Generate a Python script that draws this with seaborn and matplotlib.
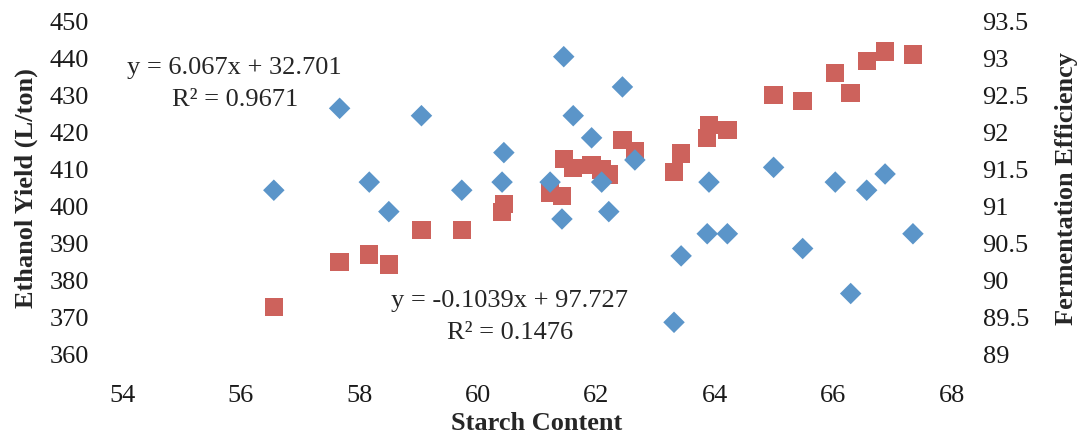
import numpy as np
import pandas as pd
import matplotlib
matplotlib.use("Agg")
import matplotlib.pyplot as plt
import seaborn as sns

# Starch content (x) shared by both series
starch = [56.56, 57.67, 58.17, 58.50, 59.05, 59.73, 60.41, 60.44, 61.22, 61.42,
          61.45, 61.61, 61.92, 62.09, 62.21, 62.44, 62.65, 63.31, 63.43, 63.87,
          63.90, 64.21, 64.99, 65.48, 66.03, 66.29, 66.56, 66.87, 67.34]

# Ethanol yield (L/ton), left axis, red squares
ethanol_yield = [372.8, 385.0, 387.0, 384.3, 393.6, 393.6, 398.5, 400.6, 403.7, 402.9,
                 412.9, 410.5, 411.2, 410.0, 408.7, 418.0, 414.9, 409.4, 414.4, 418.5,
                 422.1, 420.7, 430.2, 428.6, 436.1, 430.7, 439.5, 442.0, 441.2]

# Fermentation efficiency, right axis, blue diamonds
ferm_eff = [91.22, 92.33, 91.33, 90.93, 92.23, 91.22, 91.33, 91.73, 91.33, 90.83,
            93.03, 92.23, 91.93, 91.33, 90.93, 92.62, 91.63, 89.43, 90.33, 90.63,
            91.33, 90.63, 91.53, 90.43, 91.33, 89.82, 91.22, 91.44, 90.63]

x_ticks = [54, 56, 58, 60, 62, 64, 66, 68]
left_ticks = [360, 370, 380, 390, 400, 410, 420, 430, 440, 450]
right_ticks = [89, 89.5, 90, 90.5, 91, 91.5, 92, 92.5, 93, 93.5]

df = pd.DataFrame({"Starch": starch, "Yield": ethanol_yield, "Eff": ferm_eff})

sns.set_style("white")
plt.rcParams["font.family"] = ["Liberation Serif", "DejaVu Serif"]

fig = plt.figure(figsize=(10.83, 4.33), dpi=100)
ax = fig.add_axes([0.1127, 0.1824, 0.7664, 0.7668])
ax2 = ax.twinx()

red = "#CD625C"
blue = "#5B95C9"
fs = 19

sns.scatterplot(data=df, x="Starch", y="Yield", ax=ax, marker="s", s=175,
                color=red, edgecolor="none", linewidth=0, legend=False)
sns.scatterplot(data=df, x="Starch", y="Eff", ax=ax2, marker="D", s=120,
                color=blue, edgecolor="none", linewidth=0, legend=False)

ax.set_xlim(54, 68)
ax.set_ylim(360, 450)
ax2.set_ylim(89, 93.5)
ax.set_xticks(x_ticks)
ax.set_yticks(left_ticks)
ax2.set_yticks(right_ticks)
ax2.set_yticklabels([f"{t:g}" for t in right_ticks])

for a in (ax, ax2):
    for sp in a.spines.values():
        sp.set_visible(False)
    a.tick_params(length=0, labelsize=fs, colors="#1a1a1a")
ax.tick_params(axis="y", pad=24)
ax.tick_params(axis="x", pad=22)
ax2.tick_params(axis="y", pad=22)

ax.set_xlabel("Starch Content", fontsize=fs, fontweight="bold", labelpad=4)
ax.set_ylabel("Ethanol Yield (L/ton)", fontsize=fs, fontweight="bold", labelpad=8)
ax2.set_ylabel("Fermentation Efficiency", fontsize=fs, fontweight="bold", labelpad=19)

ax.text(55.9, 437.5, "y = 6.067x + 32.701", fontsize=fs, ha="center", va="center")
ax.text(55.9, 428.9, "R² = 0.9671", fontsize=fs, ha="center", va="center")
ax.text(60.53, 374.4, "y = -0.1039x + 97.727", fontsize=fs, ha="center", va="center")
ax.text(60.54, 365.7, "R² = 0.1476", fontsize=fs, ha="center", va="center")

fig.savefig("out.png", dpi=100)
